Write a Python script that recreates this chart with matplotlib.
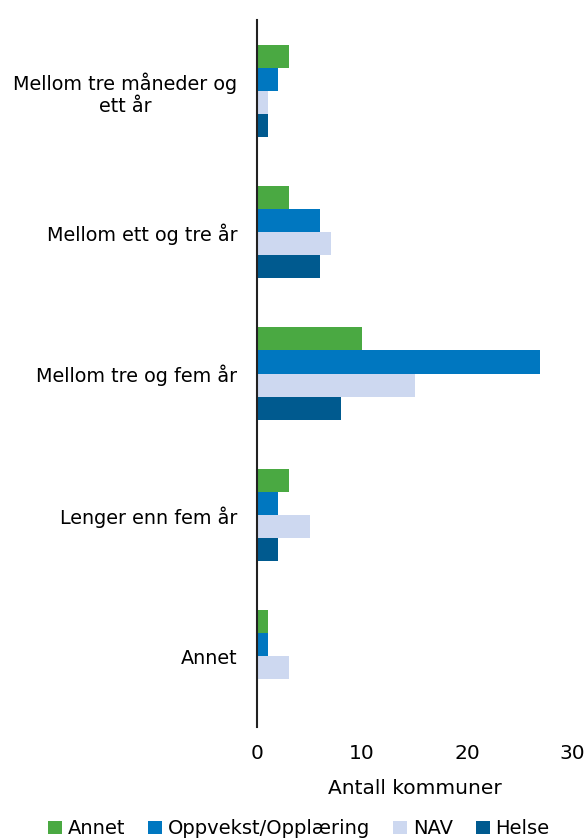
import numpy as np
import matplotlib
matplotlib.use("Agg")
import matplotlib.pyplot as plt

# Categories (top to bottom) and series values
categories = ["Mellom tre måneder og\nett år", "Mellom ett og tre år",
              "Mellom tre og fem år", "Lenger enn fem år", "Annet"]
series_names = ["Annet", "Oppvekst/Opplæring", "NAV", "Helse"]
annet = [3, 3, 10, 3, 1]
oppvekst = [2, 6, 27, 2, 1]
nav = [1, 7, 15, 5, 3]
helse = [1, 6, 8, 2, 0]
colors = ["#4aa942", "#0077c0", "#cdd8f0", "#005a8f"]

plt.rcParams['font.family'] = ['DejaVu Sans']

fig = plt.figure(figsize=(5.86, 8.38), dpi=100)
ax = fig.add_axes([0.4386, 0.1325, 0.5375, 0.8435])

y = np.arange(len(categories))
h = 0.163
for i, (name, vals, c) in enumerate(zip(series_names, [annet, oppvekst, nav, helse], colors)):
    ax.barh(y - 1.5 * h + i * h, vals, height=h, color=c, label=name)

ax.set_ylim(len(categories) - 0.5, -0.5)
ax.set_xlim(0, 30)
ax.set_xticks([0, 10, 20, 30])
ax.set_yticks(y)
ax.set_yticklabels(categories, fontsize=13.8, multialignment="center")
ax.tick_params(axis='x', labelsize=14.5, length=0, pad=12)
ax.tick_params(axis='y', length=0, pad=14)
ax.set_xlabel("Antall kommuner", fontsize=14.5, labelpad=12)
for s in ["top", "right", "bottom"]:
    ax.spines[s].set_visible(False)
ax.spines["left"].set_linewidth(1.5)
ax.spines["left"].set_color("#222222")

fig.legend(loc="center", bbox_to_anchor=(0.51, 0.011), ncol=4, frameon=False,
           fontsize=14, handlelength=0.7, handleheight=0.7, handletextpad=0.3,
           columnspacing=1.2)

fig.savefig("out.png", dpi=100)
